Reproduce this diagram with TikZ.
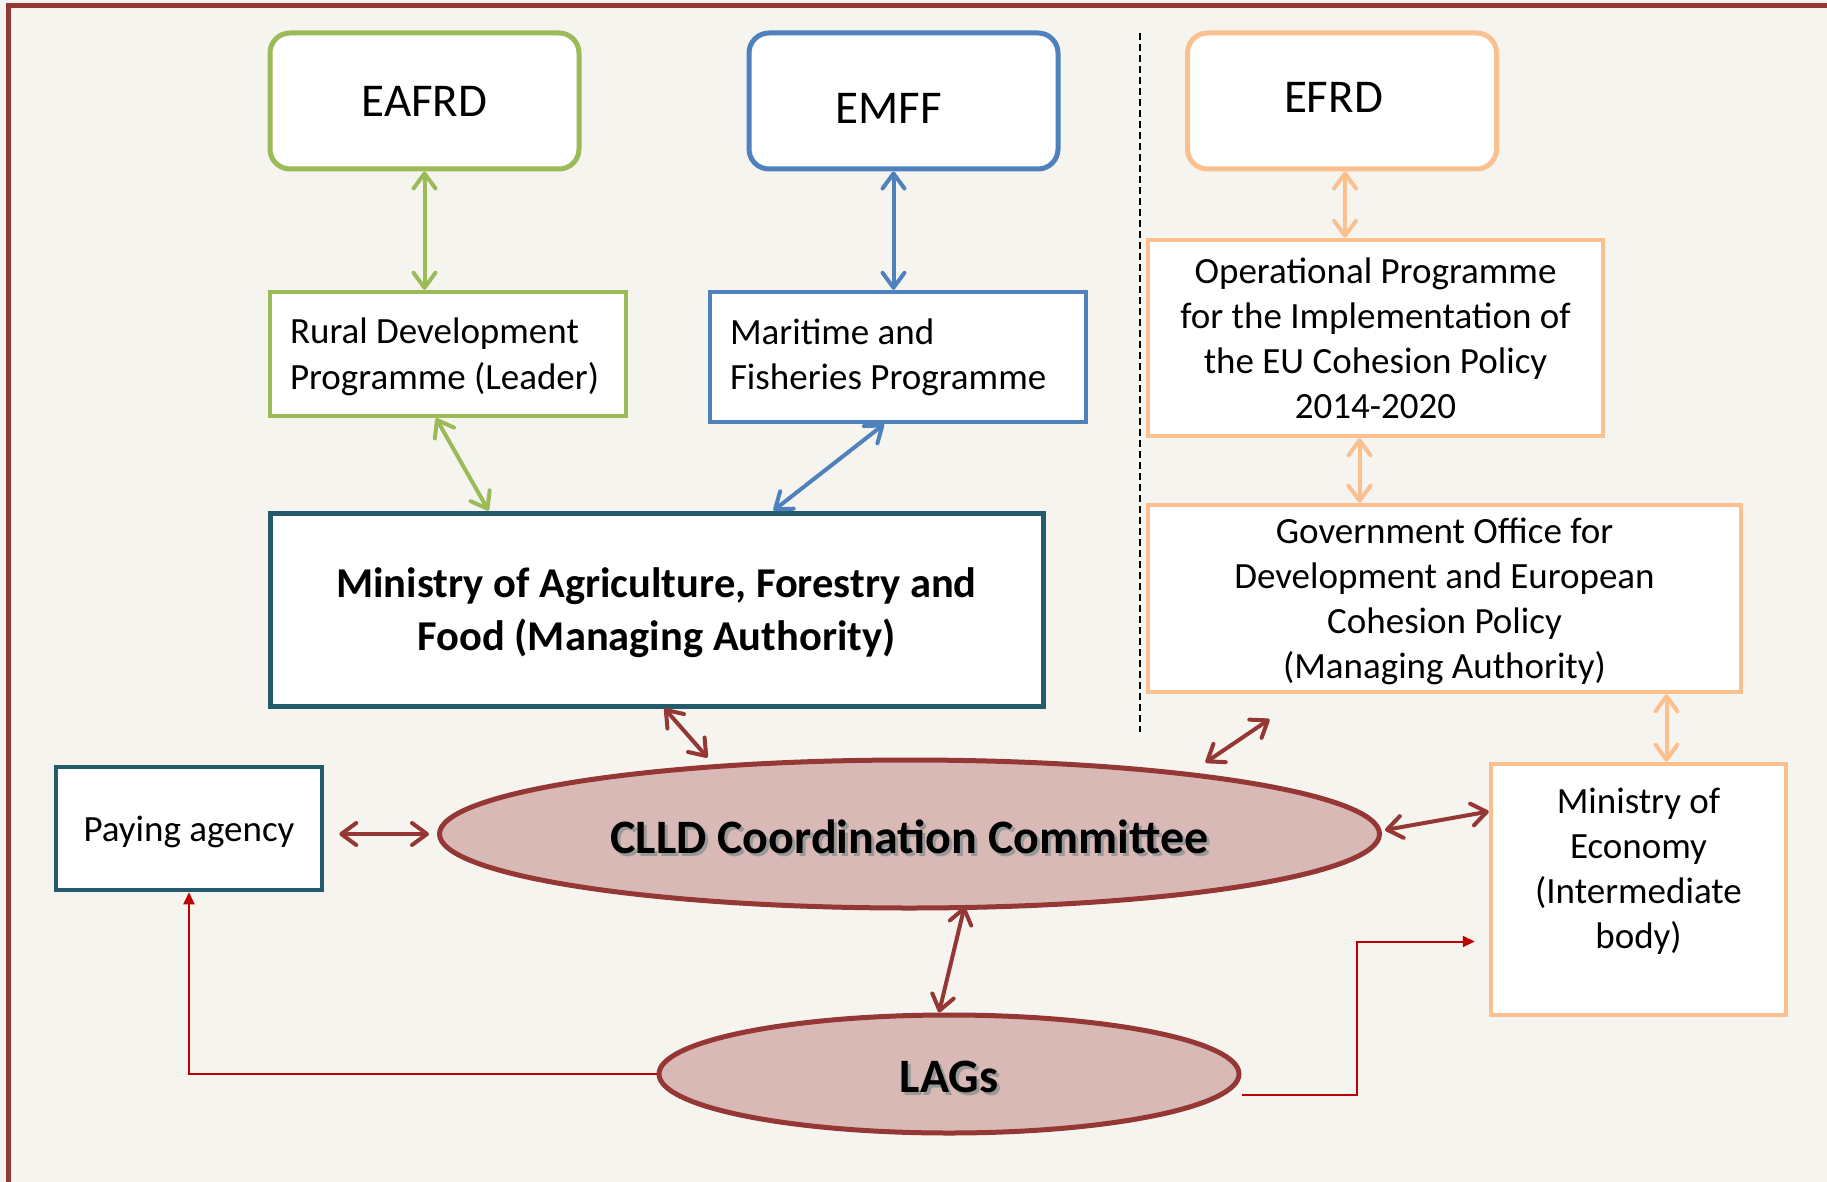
\documentclass[tikz,border=0pt]{standalone}
\usepackage{fontspec}
\setmainfont{Carlito}
\usepackage{xcolor}
\usetikzlibrary{arrows.meta,positioning,shapes.geometric}
\definecolor{framered}{HTML}{953735}
\definecolor{bggray}{HTML}{F5F4EF}
\definecolor{leafgreen}{HTML}{9BBB59}
\definecolor{seablue}{HTML}{4F81BD}
\definecolor{peach}{HTML}{FAC090}
\definecolor{darkteal}{HTML}{245B6A}
\definecolor{rosefill}{HTML}{D9B9B5}
\definecolor{linkred}{HTML}{C00000}
\newcommand{\linestrut}{\rule[-0.27em]{0pt}{1.22em}}
\newcommand{\shadowtext}[1]{\raisebox{-4pt}[\height][\depth]{%
  \makebox[0pt][l]{\hspace{3pt}\raisebox{-3pt}{\textcolor{black!40}{#1}}}#1}}

\begin{document}
\begin{tikzpicture}[x=1pt, y=-1pt,
  fund/.style={draw, line width=5pt, rounded corners=20pt, fill=white,
               minimum width=309pt, minimum height=136pt, inner sep=0pt,
               font=\fontsize{47}{56}\selectfont},
  prog/.style={draw, line width=4.5pt, fill=white, inner xsep=20pt, inner ysep=0pt,
               align=flush left, font=\fontsize{37}{45}\selectfont},
  office/.style={draw, line width=4.5pt, fill=white, inner sep=0pt,
                 align=center, font=\fontsize{37}{45}\selectfont},
  committee/.style={ellipse, draw=framered, line width=5pt, fill=rosefill, inner sep=0pt,
                    font=\bfseries\fontsize{48}{56}\selectfont},
  link/.style={line width=4pt,
               arrows={Straight Barb[length=15pt,width=22pt,round]-Straight Barb[length=15pt,width=22pt,round]}},
  flow/.style={linkred, line width=2pt, arrows=-{Triangle[length=12pt,width=11pt]}}]
  \useasboundingbox (0,0) rectangle (1827,1182);
  \fill[bggray] (0,0) rectangle (1827,1182);
  % Frame and separator
  \draw[framered, line width=5pt] (8,1200) |- (1845,6);
  \draw[line width=1.5pt, dash pattern=on 7pt off 4pt] (1140,33) -- (1140,732);
  % Fund nodes
  \node(eafrd)[fund, draw=leafgreen] at (424.5,101) {EAFRD};
  \node(emff)[fund, draw=seablue] at (903.5,101) {\raisebox{-7pt}[\height][\depth]{\hspace*{-30pt}EMFF}};
  \node(efrd)[fund, draw=peach] at (1342,101) {\raisebox{4pt}[\height][\depth]{\hspace*{-17pt}EFRD}};
  % Programme nodes
  \node(rdp)[prog, draw=leafgreen, text width=316pt, minimum height=124pt] at (448,354)
    {\linestrut Rural Development\\Programme (Leader)\linestrut};
  \node(maritime)[prog, draw=seablue, text width=336pt, minimum height=130pt] at (898,357)
    {Maritime and\\Fisheries Programme};
  \node(op)[office, draw=peach, minimum width=455pt, minimum height=196pt] at (1375.5,338)
    {\linestrut Operational Programme\\for the Implementation of\\the EU Cohesion Policy\\2014-2020\linestrut};
  % Authorities
  \node(moaf)[office, draw=darkteal, line width=5pt, minimum width=773pt, minimum height=193pt,
              font=\bfseries\fontsize{42.5}{51}\selectfont] at (656.5,609.5)
    {\linestrut Ministry of Agriculture, Forestry and\\Food (Managing Authority)\linestrut};
  \node(gov)[office, draw=peach, minimum width=593pt, minimum height=187pt] at (1444.5,598.5)
    {\linestrut Government Office for\\Development and European\\Cohesion Policy\\(Managing Authority)\linestrut};
  \node(paying)[office, draw=darkteal, minimum width=266pt, minimum height=123pt] at (189,828.5)
    {\linestrut Paying agency};
  \node(moe)[office, draw=peach, minimum width=295pt, minimum height=251pt] at (1638.5,889.5)
    {\linestrut Ministry of\\Economy\\(Intermediate\\body)\\[8pt]\mbox{}};
  % Committee and LAGs
  \node(clld)[committee, minimum width=940pt, minimum height=148pt] at (909.5,834)
    {\shadowtext{CLLD Coordination Committee}};
  \node(lags)[committee, minimum width=580pt, minimum height=118pt] at (949,1074)
    {\shadowtext{LAGs}};
  % Arrows
  \draw[link, leafgreen] (eafrd.south) -- (eafrd.south |- rdp.north);
  \draw[link, seablue] ([xshift=-10pt]emff.south) -- ([xshift=-10pt]emff.south |- maritime.north);
  \draw[link, peach] ([xshift=3pt]efrd.south) -- ([xshift=3pt]efrd.south |- op.north);
  \draw[link, leafgreen] ([xshift=-12pt]rdp.south) -- ([xshift=-168pt]moaf.north);
  \draw[link, seablue] ([xshift=-14pt]maritime.south) -- ([xshift=117pt]moaf.north);
  \draw[link, peach] ([xshift=-16pt]op.south) -- ([xshift=-16pt]op.south |- gov.north);
  \draw[link, peach] ([xshift=28pt]moe.north |- gov.south) -- ([xshift=28pt]moe.north);
  \draw[link, framered] ([xshift=8pt]moaf.south) -- ([xshift=-202pt]clld.north);
  \draw[link, framered] ([xshift=296pt,yshift=-5pt]clld.north) -- ([xshift=-175pt,yshift=-25pt]gov.south);
  \draw[link, framered] ([xshift=3pt,yshift=4pt]clld.east) -- ([yshift=78pt]moe.west);
  \draw[link, framered, shorten <=15pt, shorten >=8pt] (paying.east |- clld.west) -- (clld.west);
  \draw[link, framered] ([xshift=55pt,yshift=4pt]clld.south) -- ([xshift=-10pt]lags.north);
  \draw[flow] (lags.west) -| (paying.south);
  \draw[flow] ([yshift=-21pt]lags.east) -| ([xshift=-132pt,yshift=-52pt]moe.west)
    -- ([xshift=-14pt,yshift=-52pt]moe.west);
\end{tikzpicture}
\end{document}
